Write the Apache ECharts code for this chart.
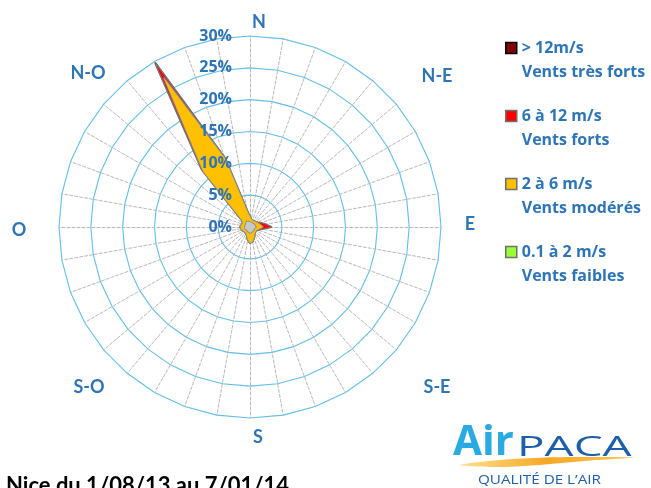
<!DOCTYPE html>
<html>
<head>
<meta charset="utf-8">
<script src="https://cdn.jsdelivr.net/npm/echarts@6/dist/echarts.min.js"></script>
<style>
html, body { margin: 0; padding: 0; background: #fff; }
#rose { width: 651px; height: 488px; }
</style>
</head>
<body>
<div id="rose"></div>
<script>
// wind directions, every 10 degrees clockwise from north
var directions = [0, 10, 20, 30, 40, 50, 60, 70, 80, 90, 100, 110, 120, 130, 140, 150, 160, 170,
    180, 190, 200, 210, 220, 230, 240, 250, 260, 270, 280, 290, 300, 310, 320, 330, 340, 350];
var compassLabels = ['N', 'N-E', 'E', 'S-E', 'S', 'S-O', 'O', 'N-O'];
var classNames = ['> 12m/s', '6 à 12 m/s', '2 à 6 m/s', '0.1 à 2 m/s'];
var classSubtitles = ['Vents très forts', 'Vents forts', 'Vents modérés', 'Vents faibles'];
var chartTitle = 'Nice du 1/08/13 au 7/01/14';
var radiusMax = 30;   // %
var radiusStep = 5;

// frequency (%) per speed class and direction
var veryStrong = [0, 0, 0, 0, 0, 0, 0, 0, 0, 0, 0, 0, 0, 0, 0, 0, 0, 0,
    0, 0, 0, 0, 0, 0, 0, 0, 0, 0, 0, 0, 0, 0, 0.1, 0.3, 0, 0];
var strong = [0, 0, 0, 0, 0, 0, 0.1, 0.3, 0.7, 1.3, 0.3, 0.1, 0, 0, 0, 0, 0, 0,
    0, 0, 0, 0, 0, 0, 0, 0, 0, 0, 0, 0, 0, 0, 0.2, 2.4, 0.1, 0.1];
var moderate = [0.8, 0.5, 0.4, 0.4, 0.4, 0.5, 0.5, 0.7, 0.9, 1.1, 0.7, 0.5, 0.4, 0.4, 0.5, 0.6, 1.0, 1.4,
    1.6, 1.2, 0.6, 0.5, 0.4, 0.4, 0.5, 0.5, 0.6, 0.7, 0.6, 0.6, 0.5, 0.8, 10.5, 26.0, 10.5, 1.7];
var weak = [0.8, 0.7, 0.7, 0.7, 0.7, 0.7, 0.8, 0.8, 0.8, 0.9, 0.8, 0.7, 0.7, 0.7, 0.7, 0.8, 0.8, 0.9,
    0.9, 0.8, 0.8, 0.7, 0.7, 0.7, 0.7, 0.8, 0.8, 0.8, 0.8, 0.7, 0.8, 0.8, 0.9, 1.0, 0.9, 0.8];

var blue = '#2E75B6';
var font = 'Lato';

// stack the classes (outer = all speeds)
var cumWeak = [], cumModerate = [], cumStrong = [], cumAll = [];
for (var i = 0; i < directions.length; i++) {
    cumWeak.push(weak[i]);
    cumModerate.push(+(weak[i] + moderate[i]).toFixed(2));
    cumStrong.push(+(weak[i] + moderate[i] + strong[i]).toFixed(2));
    cumAll.push(+(weak[i] + moderate[i] + strong[i] + veryStrong[i]).toFixed(2));
}

// radar goes counter-clockwise, compass goes clockwise
var n = directions.length;
function toRadar(arr) {
    var out = [];
    for (var j = 0; j < n; j++) out.push(arr[(n - j) % n]);
    return out;
}

function makeIndicators(withLabel) {
    var list = [];
    for (var j = 0; j < n; j++) {
        var ind = { name: '', min: 0, max: radiusMax };
        if (withLabel && j === 0) {
            ind.axisLabel = {
                show: true,
                formatter: '{value}%',
                color: blue,
                fontWeight: 'bold',
                fontSize: 16,
                fontFamily: 'Open Sans',
                margin: 18
            };
        }
        list.push(ind);
    }
    return list;
}

var fills = ['#7f0000', '#ff0000', '#ffc000', '#c8c8c8'];
var legendFills = ['#7f0000', '#ff0000', '#ffc000', '#99ff33'];
var borders = ['#656565', '#7a7a7a', '#8c8c8c', '#8c8c8c'];
var stacks = [cumAll, cumStrong, cumModerate, cumWeak];

var seriesData = [];
var legendData = [];
for (var k = 0; k < classNames.length; k++) {
    seriesData.push({
        name: classNames[k],
        value: toRadar(stacks[k]),
        symbol: 'none',
        lineStyle: { color: borders[k], width: k === 0 ? 2.2 : 1.8 },
        areaStyle: { color: fills[k], opacity: 1 },
        itemStyle: { color: legendFills[k] }
    });
    legendData.push({
        name: classNames[k],
        itemStyle: { color: legendFills[k], borderColor: k === 0 ? '#000' : '#707070', borderWidth: 1.5 }
    });
}

// direction labels around the rose
var labelPos = [[259, 22], [437, 76], [470, 224], [437, 387], [258, 437], [89, 387], [19, 230], [88, 73]];
var graphics = [];
for (var m = 0; m < compassLabels.length; m++) {
    graphics.push({
        type: 'text', x: labelPos[m][0], y: labelPos[m][1],
        style: { text: compassLabels[m], fill: blue, font: 'bold 18px ' + font, textAlign: 'center', textVerticalAlign: 'middle' }
    });
}
graphics.push({
    type: 'text', x: 6, y: 486,
    style: { text: chartTitle, fill: '#000', font: 'bold 22px ' + font, textAlign: 'left', textVerticalAlign: 'middle' }
});
// AirPACA logo
graphics.push({
    type: 'polygon',
    shape: { points: [[460, 465], [500, 460], [545, 457.5], [590, 457], [634, 457.5], [590, 460.5], [545, 464.5], [500, 467]], smooth: 0.3 },
    style: { fill: new echarts.graphic.LinearGradient(0, 0, 1, 0, [{ offset: 0, color: '#fde08a' }, { offset: 0.5, color: '#f7a823' }, { offset: 1, color: '#fbc65a' }]) }
});
graphics.push({
    type: 'text', x: 453, y: 443,
    style: { text: 'Air', fill: '#29abe2', font: 'bold 42px "Open Sans"', textAlign: 'left', textVerticalAlign: 'middle' }
});
graphics.push({
    type: 'text', x: 517, y: 448, scaleX: 1.7,
    style: { text: 'PACA', fill: '#1d5fa8', font: '500 27px "Open Sans"', textAlign: 'left', textVerticalAlign: 'middle' }
});
graphics.push({
    type: 'text', x: 478, y: 481, scaleX: 1.27,
    style: { text: 'QUALITÉ DE L\u2019AIR', fill: '#1d5fa8', font: '12px "Open Sans"', textAlign: 'left', textVerticalAlign: 'middle' }
});

var radarGeom = { center: [250, 227], radius: 191, startAngle: 90, shape: 'polygon', splitNumber: radiusMax / radiusStep };

var chart = echarts.init(document.getElementById('rose'));
var option = {
    backgroundColor: '#fff',
    animation: false,
    radar: [
        echarts.util.extend({
            indicator: makeIndicators(false),
            axisName: { show: false },
            axisLine: { lineStyle: { color: '#b9b9b9', type: [3, 2], width: 1 } },
            axisTick: { show: false },
            splitLine: { lineStyle: { color: '#62bfe8', width: 1.1 } },
            splitArea: { show: false },
            axisLabel: { show: false }
        }, radarGeom),
        // second radar only carries the % labels, drawn above the data
        echarts.util.extend({
            z: 10,
            indicator: makeIndicators(true),
            axisName: { show: false },
            axisLine: { show: false },
            axisTick: { show: false },
            splitLine: { show: false },
            splitArea: { show: false },
            axisLabel: { show: false }
        }, radarGeom)
    ],
    legend: {
        orient: 'vertical',
        left: 500,
        top: 7,
        icon: 'rect',
        itemWidth: 11,
        itemHeight: 11,
        itemGap: -4,
        selectedMode: false,
        data: legendData,
        formatter: function (name) {
            return '\n' + name + '\n' + classSubtitles[classNames.indexOf(name)];
        },
        textStyle: { color: blue, fontFamily: 'Open Sans', fontWeight: 'bold', fontSize: 16, lineHeight: 24 }
    },
    series: [{
        type: 'radar',
        radarIndex: 0,
        symbol: 'none',
        data: seriesData
    }],
    graphic: graphics
};
chart.setOption(option);
</script>
</body>
</html>
